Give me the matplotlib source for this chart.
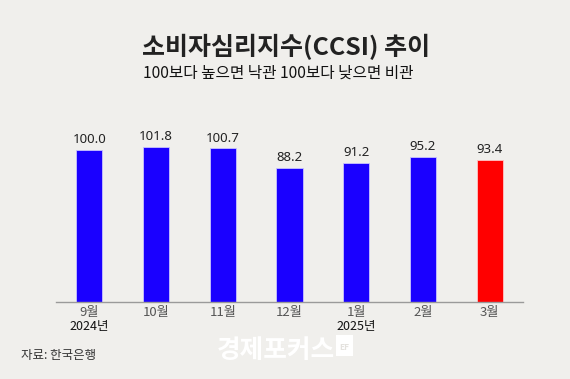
import matplotlib.pyplot as plt
from matplotlib.patches import Rectangle

plt.rcParams['font.family'] = ['Noto Sans CJK KR', 'DejaVu Sans']

months = ['9월', '10월', '11월', '12월', '1월', '2월', '3월']
values = [100.0, 101.8, 100.7, 88.2, 91.2, 95.2, 93.4]
years = {0: '2024년', 4: '2025년'}

bg = '#f0efec'
blue = '#1a00ff'
red = '#ff0000'
colors = [blue] * (len(values) - 1) + [red]
edges = ['#c9c3ff'] * (len(values) - 1) + ['#ffc4c4']

fig = plt.figure(figsize=(5.7, 3.79), dpi=100, facecolor=bg)
ax = fig.add_axes([56 / 570, 77.3 / 379, 467 / 570, 191.7 / 379])
ax.set_facecolor(bg)

x = list(range(len(values)))
ax.bar(x, values, width=0.39, color=colors, edgecolor=edges, linewidth=0.6, zorder=2)

for i, v in enumerate(values):
    ax.text(i, v + 2.6, f'{v:.1f}', ha='center', va='bottom', fontsize=9.5,
            color='#222222', family=['Noto Sans', 'DejaVu Sans'])

ax.set_xlim(-0.5, 6.5)
ax.set_ylim(0, 126)
ax.set_yticks([])
ax.set_xticks(x)
ax.set_xticklabels(months, fontsize=9.5, color='#555555')
ax.tick_params(axis='x', length=0, pad=3)
for s in ['top', 'right', 'left']:
    ax.spines[s].set_visible(False)
ax.spines['bottom'].set_color('#9a9a9a')
ax.spines['bottom'].set_linewidth(1.0)

# year labels under the month ticks
for i, yr in years.items():
    ax.text(i, -0.098, yr, transform=ax.get_xaxis_transform(), ha='center', va='top',
            fontsize=9, color='#111111')

fig.text(142 / 570, 1 - 47 / 379, '소비자심리지수(CCSI) 추이', ha='left', va='center',
         fontsize=18, fontweight='bold', color='#222222')
fig.text(143 / 570, 1 - 73 / 379, '100보다 높으면 낙관 100보다 낮으면 비관', ha='left', va='center',
         fontsize=11.3, color='#111111')

fig.text(21 / 570, 1 - 356 / 379, '자료: 한국은행', ha='left', va='center',
         fontsize=9, color='#333333')

# watermark
fig.text(217 / 570, 1 - 351 / 379, '경제포커스', ha='left', va='center',
         fontsize=18.5, fontweight='bold', color='white')
fig.patches.append(Rectangle((336 / 570, 1 - 356 / 379), 17 / 570, 21 / 379,
                             transform=fig.transFigure, facecolor='white', edgecolor='none'))
fig.text(344.5 / 570, 1 - 348 / 379, 'EF', ha='center', va='center', fontsize=6,
         fontweight='bold', color='#e4e2de')

fig.savefig('out.png', dpi=100, facecolor=bg)
